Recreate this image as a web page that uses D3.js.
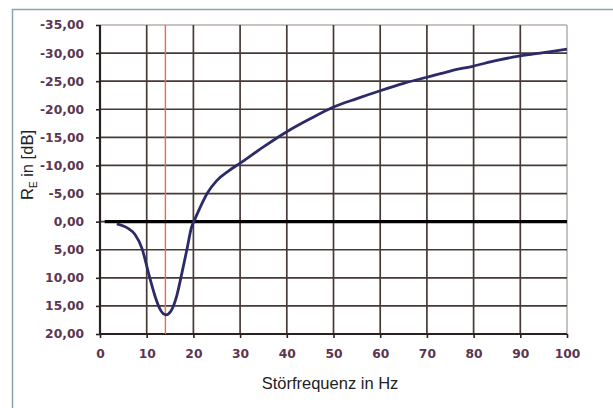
<!DOCTYPE html>
<html><head><meta charset="utf-8">
<script src="https://cdn.jsdelivr.net/npm/d3@7"></script>
<style>body{margin:0;background:#fff}svg{display:block}</style>
</head><body>
<svg id="c" width="613" height="408"></svg>
<script>
const xTicks = [0,10,20,30,40,50,60,70,80,90,100];
const yTicks = [-35,-30,-25,-20,-15,-10,-5,0,5,10,15,20];
const freq = [3.6,6,7.5,9,10.5,12,13,14.1,15.2,16.4,17.5,18.6,19.6,20.3,21.7,23,25,27.5,30,35,40,45,50,55,60,65,70,75,80,85,90,95,100];
const rE   = [0.4,1.2,2.3,4.8,9.5,13.8,15.8,16.6,15.9,13.3,9.3,5.0,1.0,-0.4,-3.0,-5.1,-7.3,-9.0,-10.4,-13.3,-16.0,-18.3,-20.4,-21.9,-23.3,-24.6,-25.7,-26.8,-27.7,-28.7,-29.5,-30.1,-30.7];
const zeroX = [1,100];
const zeroY = [0,0];
const markerFreq = 14;
const xTitle = "Störfrequenz in Hz";

const svg = d3.select("#c");
const L=100,R=567,T=25,B=334;
const x = d3.scaleLinear().domain([0,100]).range([L,R]);
const y = d3.scaleLinear().domain([-35,20]).range([T,B]);
const fmt = v => d3.format(".2f")(v).replace(".",",").replace("−","-");

// outer frame
svg.append("path").attr("d",`M12.5,408 L12.5,9.5 L613,9.5`).attr("fill","none").attr("stroke","#8da0ad").attr("stroke-width",1.5);

// plot border (light)
svg.append("line").attr("x1",L).attr("x2",R).attr("y1",T).attr("y2",T).attr("stroke","#b8aeaa").attr("stroke-width",1.5);
svg.append("line").attr("x1",R).attr("x2",R).attr("y1",T).attr("y2",B).attr("stroke","#b8aeaa").attr("stroke-width",1.5);

// grid
const g = svg.append("g");
g.selectAll(".hg").data(yTicks.filter(d=>d!==-35)).enter().append("line")
 .attr("x1",L).attr("x2",R).attr("y1",d=>y(d)).attr("y2",d=>y(d))
 .attr("stroke","#463a36").attr("stroke-width",1.7);
g.selectAll(".vg").data(xTicks.filter(d=>d!==0&&d!==100)).enter().append("line")
 .attr("y1",T).attr("y2",B).attr("x1",d=>x(d)).attr("x2",d=>x(d))
 .attr("stroke","#463a36").attr("stroke-width",1.7);

// axes
const yAxis = svg.append("g").attr("transform",`translate(${L},0)`)
  .call(d3.axisLeft(y).tickValues(yTicks).tickSize(4).tickPadding(12).tickFormat(fmt));
const xAxis = svg.append("g").attr("transform",`translate(0,${B})`)
  .call(d3.axisBottom(x).tickValues(xTicks).tickSize(4).tickPadding(11));
[yAxis,xAxis].forEach(a=>{
  a.select(".domain").attr("stroke","#2a2220").attr("stroke-width",2.2);
  a.selectAll(".tick line").attr("stroke","#2a2220").attr("stroke-width",1.6);
  a.selectAll("text").attr("font-family","'DejaVu Sans', Verdana, sans-serif").attr("font-weight","bold")
   .attr("font-size","12.3px").attr("fill","#5c3550");
});
xAxis.select(".domain").attr("d",`M${L},0H${R}`);
yAxis.select(".domain").attr("d",`M0,${T}V${B}`);

// marker line
svg.append("line").attr("x1",x(markerFreq)).attr("x2",x(markerFreq)).attr("y1",T).attr("y2",B)
 .attr("stroke","#f26a4a").attr("stroke-width",1.4);

// zero line
const line = d3.line().x(d=>x(d[0])).y(d=>y(d[1]));
svg.append("path").datum(zeroX.map((v,i)=>[v,zeroY[i]])).attr("d",line)
 .attr("stroke","#000").attr("stroke-width",3.2).attr("fill","none");

// curve
svg.append("path").datum(freq.map((v,i)=>[v,rE[i]]))
 .attr("d",line.curve(d3.curveMonotoneX))
 .attr("stroke","#2c2a68").attr("stroke-width",2.8).attr("fill","none").attr("stroke-linejoin","round");

// titles
svg.append("text").attr("x",330).attr("y",389).attr("text-anchor","middle")
 .attr("font-family","'Liberation Sans', Arial, sans-serif").attr("font-size","16.5px").attr("fill","#222")
 .text(xTitle);
const yt = svg.append("text").attr("transform","translate(33,165) rotate(-90)").attr("text-anchor","middle")
 .attr("font-family","'Liberation Sans', Arial, sans-serif").attr("font-size","16.5px").attr("fill","#222");
yt.append("tspan").text("R");
yt.append("tspan").attr("font-size","10px").attr("dy",4).text("E");
yt.append("tspan").attr("dy",-4).text(" in [dB]");
</script>
</body></html>
